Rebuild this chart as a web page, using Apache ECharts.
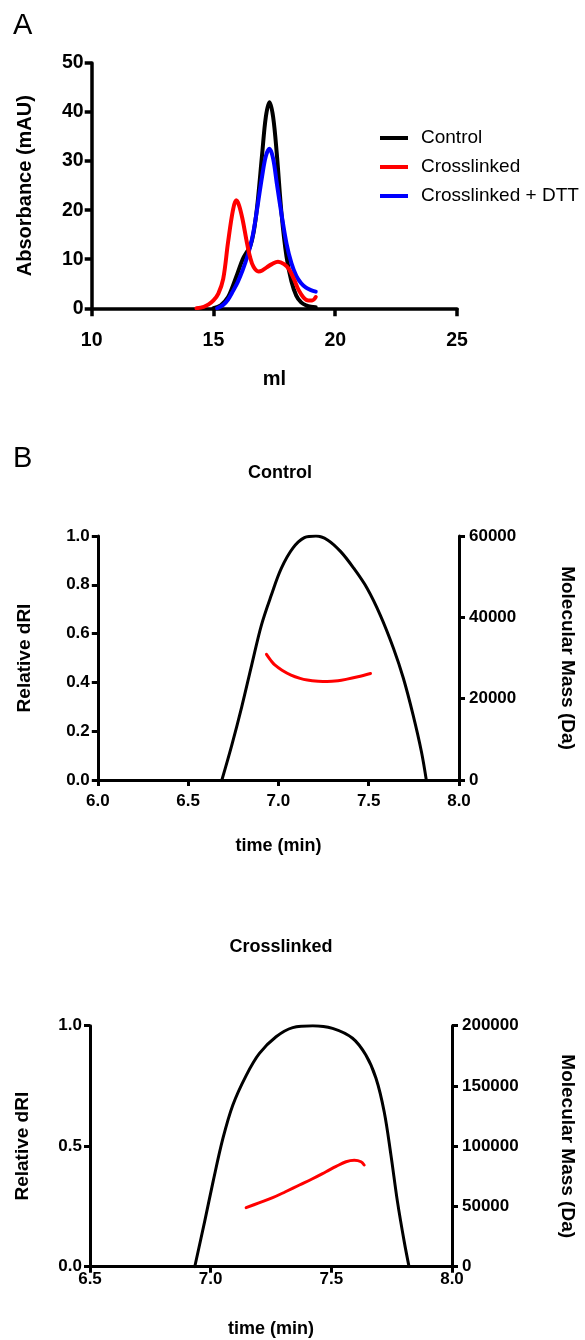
<!DOCTYPE html>
<html>
<head>
<meta charset="utf-8">
<script src="https://cdn.jsdelivr.net/npm/echarts@6/dist/echarts.min.js"></script>
<style>
html,body{margin:0;padding:0;background:#fff;}
#chart{width:585px;height:1340px;}
</style>
</head>
<body>
<div id="chart"></div>
<script>
// ---------- Panel A : absorbance vs elution volume ----------
const aXTicks = [10, 15, 20, 25];
const aYTicks = [0, 10, 20, 30, 40, 50];
const ctrlMl  = [15.0, 15.3, 15.6, 15.8, 16.0, 16.2, 16.35, 16.5, 16.65, 16.8, 17.0, 17.15, 17.3, 17.45, 17.6, 17.8, 18.0, 18.2, 18.4, 18.6, 18.8, 19.0, 19.2];
const ctrlAbs = [0, 0.6, 2.3, 4.6, 7.3, 10, 11.3, 12.5, 15.5, 21, 31.5, 39, 42, 39, 31.5, 19, 10.5, 5.5, 2.6, 1.2, 0.6, 0.3, 0.2];
const xlMl    = [14.3, 14.6, 14.8, 15.0, 15.2, 15.4, 15.6, 15.8, 15.93, 16.05, 16.2, 16.35, 16.5, 16.65, 16.85, 17.0, 17.2, 17.4, 17.65, 17.9, 18.1, 18.3, 18.5, 18.7, 18.9, 19.05, 19.2];
const xlAbs   = [0, 0.3, 0.8, 1.6, 3, 6, 13.5, 20, 22, 21, 18, 14, 10.5, 8.4, 7.5, 7.7, 8.4, 9, 9.5, 9, 8, 6, 3.7, 2.2, 1.6, 1.6, 2.3];
const dttMl   = [15.15, 15.4, 15.6, 15.8, 16.0, 16.2, 16.4, 16.6, 16.8, 17.0, 17.15, 17.3, 17.45, 17.6, 17.8, 18.0, 18.2, 18.4, 18.6, 18.8, 19.0, 19.2];
const dttAbs  = [0, 0.7, 1.8, 3.5, 5.4, 7.8, 10.7, 14.5, 20.5, 27, 31, 32.5, 30.5, 25.5, 19, 13.2, 9.2, 6.6, 5.1, 4.2, 3.7, 3.4];
const legendNames = ['Control', 'Crosslinked', 'Crosslinked + DTT'];

// ---------- Panel B (Control) : SEC-MALS ----------
const b1Time = [6.687, 6.742, 6.797, 6.852, 6.906, 6.961, 7.016, 7.08, 7.144, 7.208, 7.272, 7.345, 7.418, 7.491, 7.564, 7.637, 7.692, 7.746, 7.792, 7.819];
const b1dRI  = [0, 0.143, 0.30, 0.471, 0.635, 0.758, 0.867, 0.95, 0.993, 1.0, 0.984, 0.936, 0.867, 0.786, 0.676, 0.54, 0.417, 0.266, 0.116, 0];
const b1MassTime = [6.934, 6.96, 6.98, 7.02, 7.07, 7.12, 7.16, 7.22, 7.27, 7.33, 7.38, 7.44, 7.51];
const b1Mass     = [30900, 29300, 28300, 27000, 25800, 25000, 24600, 24300, 24200, 24400, 24800, 25400, 26200];

// ---------- Panel B (Crosslinked) : SEC-MALS ----------
const b2Time = [6.934, 6.975, 7.01, 7.051, 7.092, 7.148, 7.202, 7.271, 7.34, 7.423, 7.505, 7.588, 7.643, 7.685, 7.719, 7.747, 7.774, 7.802, 7.822];
const b2dRI  = [0, 0.187, 0.353, 0.533, 0.671, 0.795, 0.885, 0.954, 0.992, 1.0, 0.989, 0.948, 0.878, 0.782, 0.643, 0.463, 0.27, 0.104, 0];
const b2MassTime = [7.147, 7.2, 7.257, 7.31, 7.368, 7.42, 7.478, 7.52, 7.561, 7.595, 7.623, 7.636];
const b2Mass     = [49000, 53000, 57300, 62200, 67800, 72800, 78800, 83200, 87100, 88300, 87100, 84400];

const FONT = '"Liberation Sans", Arial, Helvetica, sans-serif';
const zip = (xs, ys) => xs.map((x, i) => [x, ys[i]]);
const fmt1 = v => v.toFixed(1);
const fmt0 = v => String(v);

function axisStyle(lw, tickLen) {
  return {
    axisLine: { show: true, onZero: false, lineStyle: { color: '#000', width: lw } },
    axisTick: { show: true, inside: false, length: tickLen, lineStyle: { color: '#000', width: lw } },
    splitLine: { show: false }
  };
}
function label(size, margin, formatter) {
  const o = { color: '#000', fontWeight: 'bold', fontSize: size, fontFamily: FONT, margin: margin };
  if (formatter) o.formatter = formatter;
  return o;
}
function nameStyle(size) {
  return { color: '#000', fontWeight: 'bold', fontSize: size, fontFamily: FONT };
}
function curve(name, xi, yi, xs, ys, color, width) {
  return { name: name, type: 'line', xAxisIndex: xi, yAxisIndex: yi, data: zip(xs, ys),
    smooth: 0.35, showSymbol: false, color: color,
    lineStyle: { color: color, width: width, cap: 'round', join: 'round' } };
}

const chart = echarts.init(document.getElementById('chart'), null, { renderer: 'canvas' });

const option = {
  backgroundColor: '#fff',
  animation: false,
  title: [
    { text: 'Control', left: 275, top: 459, textAlign: 'center',
      textStyle: { fontSize: 18, fontWeight: 'bold', color: '#000', fontFamily: FONT } },
    { text: 'Crosslinked', left: 276, top: 933, textAlign: 'center',
      textStyle: { fontSize: 18, fontWeight: 'bold', color: '#000', fontFamily: FONT } }
  ],
  graphic: [
    { type: 'text', left: 13, top: 11, style: { text: 'A', fontSize: 29, fontFamily: FONT, fill: '#000' } },
    { type: 'text', left: 13, top: 444, style: { text: 'B', fontSize: 29, fontFamily: FONT, fill: '#000' } }
  ],
  legend: {
    data: legendNames,
    orient: 'vertical',
    left: 375,
    top: 123,
    itemWidth: 28,
    itemHeight: 4,
    itemGap: 9,
    icon: 'rect',
    textStyle: { fontSize: 19, fontFamily: FONT, color: '#000', padding: [0, 0, 0, 8], lineHeight: 20 }
  },
  grid: [
    { left: 91.7, top: 63, width: 365.3, height: 245.3 },
    { left: 97.8, top: 536, width: 365.2, height: 244 },
    { left: 90, top: 1025.7, width: 363, height: 241 }
  ],
  xAxis: [
    Object.assign({ type: 'value', gridIndex: 0, min: aXTicks[0], max: aXTicks[aXTicks.length - 1], interval: 5,
      name: 'ml', nameLocation: 'middle', nameGap: 61, nameTextStyle: nameStyle(20),
      axisLabel: label(19.5, 22, fmt0) }, axisStyle(3.5, 8)),
    Object.assign({ type: 'value', gridIndex: 1, min: 6, max: 8, interval: 0.5,
      name: 'time (min)', nameLocation: 'middle', nameGap: 57, nameTextStyle: nameStyle(18),
      axisLabel: label(17, 13, fmt1) }, axisStyle(3, 6)),
    Object.assign({ type: 'value', gridIndex: 2, min: 6.5, max: 8, interval: 0.5,
      name: 'time (min)', nameLocation: 'middle', nameGap: 53, nameTextStyle: nameStyle(18),
      axisLabel: label(17, 4, fmt1) }, axisStyle(3, 6))
  ],
  yAxis: [
    Object.assign({ type: 'value', gridIndex: 0, min: aYTicks[0], max: aYTicks[aYTicks.length - 1], interval: 10,
      name: 'Absorbance (mAU)', nameLocation: 'middle', nameGap: 56, nameTextStyle: nameStyle(20),
      axisLabel: label(19.5, 8, fmt0) }, axisStyle(3.5, 7)),
    Object.assign({ type: 'value', gridIndex: 1, min: 0, max: 1, interval: 0.2, position: 'left',
      name: 'Relative dRI', nameLocation: 'middle', nameGap: 64, nameTextStyle: nameStyle(19),
      axisLabel: label(17, 8, fmt1) }, axisStyle(3, 6)),
    Object.assign({ type: 'value', gridIndex: 1, min: 0, max: 60000, interval: 20000, position: 'right',
      name: 'Molecular Mass (Da)', nameLocation: 'middle', nameGap: 99, nameRotate: -90, nameTextStyle: nameStyle(19),
      axisLabel: label(17, 10, fmt0) }, axisStyle(3, 6)),
    Object.assign({ type: 'value', gridIndex: 2, min: 0, max: 1, interval: 0.5, position: 'left',
      name: 'Relative dRI', nameLocation: 'middle', nameGap: 58, nameTextStyle: nameStyle(19),
      axisLabel: label(17, 8, fmt1) }, axisStyle(3, 6)),
    Object.assign({ type: 'value', gridIndex: 2, min: 0, max: 200000, interval: 50000, position: 'right',
      name: 'Molecular Mass (Da)', nameLocation: 'middle', nameGap: 106, nameRotate: -90, nameTextStyle: nameStyle(19),
      axisLabel: label(17, 10, fmt0) }, axisStyle(3, 6))
  ],
  series: [
    curve('Control', 0, 0, ctrlMl, ctrlAbs, '#000000', 4),
    curve('Crosslinked + DTT', 0, 0, dttMl, dttAbs, '#0000ff', 4),
    curve('Crosslinked', 0, 0, xlMl, xlAbs, '#ff0000', 4),
    curve('dRI control', 1, 1, b1Time, b1dRI, '#000000', 3),
    curve('Mass control', 1, 2, b1MassTime, b1Mass, '#ff0000', 3),
    curve('dRI crosslinked', 2, 3, b2Time, b2dRI, '#000000', 3),
    curve('Mass crosslinked', 2, 4, b2MassTime, b2Mass, '#ff0000', 3)
  ]
};
chart.setOption(option);
</script>
</body>
</html>
